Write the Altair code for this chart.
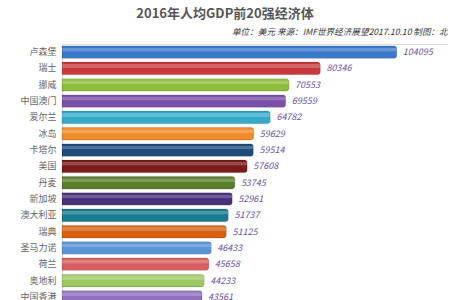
import altair as alt
import pandas as pd

countries = ["卢森堡", "瑞士", "挪威", "中国澳门", "爱尔兰", "冰岛", "卡塔尔", "美国",
             "丹麦", "新加坡", "澳大利亚", "瑞典", "圣马力诺", "荷兰", "奥地利", "中国香港"]
gdp = [104095, 80346, 70553, 69559, 64782, 59629, 59514, 57608,
       53745, 52961, 51737, 51125, 46433, 45658, 44233, 43561]
colors = ["#3a78c9", "#c8393b", "#8dbb3a", "#7a4fa8", "#33aacc", "#f08c2a", "#1d4a7a", "#7a1a1a",
          "#5a7f2a", "#4a2f7a", "#1a7a8f", "#d85f10", "#5c93d6", "#d85f5f", "#9dc860", "#8f70bf"]
title_text = "2016年人均GDP前20强经济体"
subtitle_text = "单位：美元 来源：IMF世界经济展望2017.10.10 制图：北京"

df = pd.DataFrame({"country": countries, "gdp": gdp, "color": colors})

font = "Noto Sans CJK SC"

y_enc = alt.Y("country:N", sort=countries, title=None,
              scale=alt.Scale(paddingInner=0.22, paddingOuter=0.11),
              axis=alt.Axis(domain=False, ticks=False, labelFont=font, labelFontSize=9,
                            labelColor="#666666", labelPadding=6))
x_enc = alt.X("gdp:Q", title=None, scale=alt.Scale(domain=[0, 120000]), axis=None)

bars = alt.Chart(df).mark_bar(cornerRadiusEnd=3, stroke="#00000033", strokeWidth=0.6).encode(
    y=y_enc, x=x_enc, color=alt.Color("color:N", scale=None)
)
gloss = alt.Chart(df).mark_bar(cornerRadiusEnd=2, yOffset=-2.5, size=4, color="white", opacity=0.22).encode(
    y=y_enc, x=x_enc
)
labels = alt.Chart(df).mark_text(align="left", baseline="middle", dx=6, font=font, fontSize=9,
                                 fontStyle="italic", color="#6b4f9e").encode(
    y=y_enc, x=x_enc, text="gdp:Q"
)
title = alt.Chart(pd.DataFrame({"t": [title_text]})).mark_text(
    align="center", baseline="middle", font=font, fontSize=13, fontWeight="bold", color="#555555"
).encode(x=alt.value(163), y=alt.value(-30), text="t:N")
subtitle = alt.Chart(pd.DataFrame({"t": [subtitle_text]})).mark_text(
    align="left", baseline="middle", font=font, fontSize=8.6, fontStyle="italic", color="#333333"
).encode(x=alt.value(170), y=alt.value(-12), text="t:N")

chart = alt.layer(bars, gloss, labels, title, subtitle).properties(
    width=386, height=261,
    autosize=alt.AutoSizeParams(type="none"),
    padding={"left": 62, "top": 44, "right": 0, "bottom": 0},
).configure_view(stroke=None).configure(background="white")

chart.save("out.html", embed_options={"renderer": "svg", "actions": False})
